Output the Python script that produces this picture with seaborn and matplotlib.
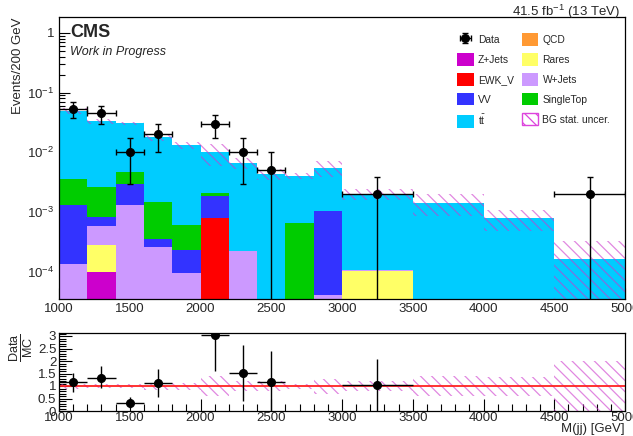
import numpy as np
import pandas as pd
import matplotlib
matplotlib.use("Agg")
import matplotlib.pyplot as plt
import seaborn as sns
from matplotlib.patches import Patch
from matplotlib.ticker import FixedLocator, FixedFormatter, MultipleLocator, LogLocator, NullFormatter

# ---------------- data ----------------
edges = [1000, 1200, 1400, 1600, 1800, 2000, 2200, 2400, 2600, 2800, 3000, 3500, 4000, 4500, 5000]

qcd      = [0, 0, 0, 0, 0, 0, 0, 0, 0, 0, 0, 0, 0, 0]
zjets    = [0, 9.8e-5, 0, 0, 0, 0, 0, 0, 0, 0, 0, 0, 0, 0]
rares    = [0, 1.8e-4, 0, 0, 0, 0, 0, 0, 0, 0, 1.0e-4, 0, 0, 0]
wjets    = [1.35e-4, 3.1e-4, 1.32e-3, 2.6e-4, 9.5e-5, 0, 2.2e-4, 0, 0, 4.1e-5, 5e-6, 0, 0, 0]
ewkv     = [0, 0, 0, 0, 0, 8.0e-4, 0, 0, 0, 0, 0, 0, 0, 0]
vv       = [1.15e-3, 2.3e-4, 1.58e-3, 8.5e-5, 1.35e-4, 1.04e-3, 0, 0, 0, 9.9e-4, 0, 0, 0, 0]
singletop = [2.3e-3, 1.8e-3, 1.7e-3, 1.1e-3, 3.8e-4, 2.6e-4, 0, 0, 6.5e-4, 0, 0, 0, 0, 0]
ttbar    = [0.0458, 0.0306, 0.0257, 0.0166, 0.0125, 0.0078, 0.0064, 0.0043, 0.00335, 0.0045, 0.00187, 0.0014, 0.00078, 0.00016]

bg_rel_unc = [0.10, 0.09, 0.07, 0.14, 0.14, 0.40, 0.20, 0.20, 0.10, 0.30, 0.20, 0.40, 0.38, 1.0]

data_x    = [1100, 1300, 1500, 1700, 2100, 2300, 2500, 3250, 4750]
data_xerr = [100, 100, 100, 100, 100, 100, 100, 250, 250]
data_y    = [0.054, 0.045, 0.010, 0.020, 0.030, 0.010, 0.005, 0.002, 0.002]
data_lo   = [0.016, 0.015, 0.0071, 0.0101, 0.0124, 0.0071, 0.005, 0.002, 0.002]
data_hi   = [0.016, 0.015, 0.007, 0.010, 0.012, 0.007, 0.005, 0.0019, 0.0019]

ratio_x    = [1100, 1300, 1500, 1700, 2100, 2300, 2500, 3250]
ratio_xerr = [100, 100, 100, 100, 100, 100, 100, 250]
ratio_y    = [1.15, 1.34, 0.33, 1.14, 3.03, 1.52, 1.18, 1.04]
ratio_lo   = [0.38, 0.44, 0.21, 0.59, 1.43, 1.12, 1.18, 1.04]
ratio_hi   = [0.38, 0.45, 0.23, 0.56, 1.40, 1.13, 1.22, 1.06]

process_names = ["QCD", "Z+Jets", "Rares", "W+Jets", "EWK_V", "VV", "SingleTop", "tt"]  # bottom -> top
process_vals = [qcd, zjets, rares, wjets, ewkv, vv, singletop, ttbar]
colors = {"QCD": "#ff9933", "Z+Jets": "#cc00cc", "Rares": "#ffff66", "W+Jets": "#cc99ff",
          "EWK_V": "#ff0000", "VV": "#3333ff", "SingleTop": "#00cc00", "tt": "#00ccff"}

# ---------------- style ----------------
sns.set_theme(style="ticks")
plt.rcParams["font.family"] = ["Liberation Sans", "DejaVu Sans"]
plt.rcParams["mathtext.fontset"] = "custom"
plt.rcParams["mathtext.rm"] = "Liberation Sans"
plt.rcParams["mathtext.it"] = "Liberation Sans:italic"
plt.rcParams["mathtext.bf"] = "Liberation Sans:bold"
plt.rcParams["hatch.linewidth"] = 0.9
plt.rcParams["axes.linewidth"] = 0.9
plt.rcParams["axes.edgecolor"] = "black"

hatch_col = (0.80, 0.22, 0.80, 0.6)

edges_a = np.array(edges, dtype=float)
centers = 0.5 * (edges_a[:-1] + edges_a[1:])
widths = np.diff(edges_a)

rows = []
for name, vals in zip(process_names, process_vals):
    for c, v in zip(centers, vals):
        rows.append({"mjj": c, "w": v, "process": name})
df = pd.DataFrame(rows)

total = np.sum(np.array(process_vals, dtype=float), axis=0)
rel = np.array(bg_rel_unc)

fig = plt.figure(figsize=(6.33, 4.36), dpi=100)
ax = fig.add_axes([59 / 633, 1 - 299 / 436, (625 - 59) / 633, (299 - 17) / 436])
rax = fig.add_axes([59 / 633, 1 - 411 / 436, (625 - 59) / 633, (411 - 333) / 436])

# stacked histogram (seaborn stacks last hue level at the bottom)
sns.histplot(data=df, x="mjj", weights="w", hue="process", hue_order=process_names[::-1],
             multiple="stack", bins=edges, palette=colors, alpha=1.0, linewidth=0,
             legend=False, ax=ax)
ax.set_yscale("log")

# BG stat uncertainty band
lo_band = np.clip(total * (1 - rel), 1e-7, None)
hi_band = total * (1 + rel)
ax.bar(edges_a[:-1], hi_band - lo_band, bottom=lo_band, width=widths, align="edge",
       facecolor="none", edgecolor=hatch_col, hatch="\\\\\\", linewidth=0)

# data
dy_lo = np.array(data_lo) * 0.99999
eb = ax.errorbar(data_x, data_y, xerr=data_xerr, yerr=[dy_lo, data_hi], fmt="o", color="black",
                 markersize=5.5, elinewidth=1.0, capsize=2, capthick=1.0)

ax.set_xlim(1000, 5000)
ax.set_ylim(3.45e-5, 1.85)
ax.set_xlabel("")
ax.set_ylabel("Events/200 GeV", loc="top", fontsize=9.5, labelpad=2)
ax.yaxis.set_major_locator(FixedLocator([1e-4, 1e-3, 1e-2, 1e-1, 1]))
ax.yaxis.set_major_formatter(FixedFormatter([r"$10^{-4}$", r"$10^{-3}$", r"$10^{-2}$", r"$10^{-1}$", "1"]))
ax.yaxis.set_minor_locator(LogLocator(base=10, subs=np.arange(2, 10), numticks=20))
ax.yaxis.set_minor_formatter(NullFormatter())
ax.xaxis.set_major_locator(MultipleLocator(500))
ax.xaxis.set_minor_locator(MultipleLocator(100))
ax.tick_params(which="both", direction="in", top=False, right=False, labelsize=9.5, color="black")
ax.tick_params(which="major", length=8, width=0.8)
ax.tick_params(which="minor", length=4, width=0.8)
ax.tick_params(axis="x", pad=3)

ax.text(0.019, 0.944, "CMS", transform=ax.transAxes, fontsize=13, fontweight="bold", va="center", ha="left")
ax.text(0.019, 0.875, "Work in Progress", transform=ax.transAxes, fontsize=9, style="italic", va="center", ha="left")
fig.text(620 / 633, 1 - 12 / 436, r"41.5 fb$^{-1}$ (13 TeV)", ha="right", va="center", fontsize=9.5)

# legend
def patch(name):
    return Patch(facecolor=colors[name], edgecolor="none", label=name)

handles = [eb, patch("Z+Jets"), patch("EWK_V"), patch("VV"),
           Patch(facecolor=colors["tt"], edgecolor="none"),
           patch("QCD"), patch("Rares"), patch("W+Jets"), patch("SingleTop"),
           Patch(facecolor="white", edgecolor="#dd44dd", hatch="\\\\\\", linewidth=1.0)]
labels = ["Data", "Z+Jets", "EWK_V", "VV", r"$\mathrm{t\bar{t}}$",
          "QCD", "Rares", "W+Jets", "SingleTop", "BG stat. uncer."]
leg = fig.legend(handles, labels, ncol=2, loc="upper left", bbox_to_anchor=(452 / 633, 1 - 28 / 436),
                 frameon=False, fontsize=7.4, handlelength=1.6, handleheight=1.5,
                 handletextpad=0.4, labelspacing=0.72, columnspacing=0.8, borderpad=0)

# ratio panel
rax.bar(edges_a[:-1], 2 * rel, bottom=1 - rel, width=widths, align="edge",
        facecolor="none", edgecolor=hatch_col, hatch="\\\\\\", linewidth=0)
rax.axhline(1.0, color="#ff2222", linewidth=1.3)
rax.errorbar(ratio_x, ratio_y, xerr=ratio_xerr, yerr=[np.array(ratio_lo) * 0.99999, ratio_hi],
             fmt="o", color="black", markersize=5.5, elinewidth=1.0, capsize=0)
rax.set_xlim(1000, 5000)
rax.set_ylim(0, 3.12)
rax.xaxis.set_major_locator(MultipleLocator(500))
rax.xaxis.set_minor_locator(MultipleLocator(100))
rax.yaxis.set_major_locator(FixedLocator([0, 0.5, 1, 1.5, 2, 2.5, 3]))
rax.yaxis.set_major_formatter(FixedFormatter(["0", "0.5", "1", "1.5", "2", "2.5", "3"]))
rax.yaxis.set_minor_locator(MultipleLocator(0.1))
rax.tick_params(which="both", direction="in", top=False, right=False, labelsize=9.5, color="black")
rax.tick_params(which="major", length=9, width=0.8)
rax.tick_params(which="minor", length=5, width=0.8)
rax.tick_params(axis="x", pad=1)
rax.tick_params(axis="y", pad=2)
rax.set_xlabel("M(jj) [GeV]", loc="right", fontsize=9.5, labelpad=-1)
rax.set_ylabel(r"$\frac{\mathrm{Data}}{\mathrm{MC}}$", fontsize=13, labelpad=2, loc="top")

fig.savefig("out.png", dpi=100)
